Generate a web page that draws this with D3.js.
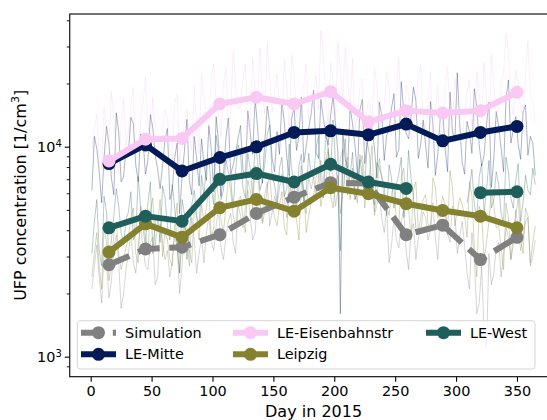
<!DOCTYPE html>
<html lang="en">
<head>
  <meta charset="UTF-8">
  <title>UFP concentration 2015</title>
  <script src="https://d3js.org/d3.v7.min.js"></script>
  <style>
    body { margin: 0; background: #fff; }
    text { font-family: "DejaVu Sans", sans-serif; fill: #000; }
  </style>
</head>
<body>
  <script>
    // monthly means (mid-month days)
    const monthDays = [15, 45, 75, 106, 136, 167, 197, 228, 259, 289, 320, 350];
    const simulation = [2740, 3260, 3320, 3810, 4810, 5750, 6740, 6670, 3810, 4230, 2900, 3700];
    const leMitte = [8310, 10200, 7660, 8880, 9980, 11690, 11900, 11390, 12810, 10660, 11690, 12490];
    const leEisenbahnstr = [8550, 10860, 10950, 15970, 17200, 15970, 18280, 13140, 14840, 14460, 14840, 18160];
    const leipzig = [3150, 4290, 3700, 5120, 5610, 4930, 6380, 5970, 5350, 4970, 4670, 4110];
    const leWest = [4110, 4670, 4420, 6990, 7450, 6790, 8250, 6790, 6330, null, 6040, 6100];

    // daily values, read every 2nd day:
    // "A" arrays are days 1, 5, 9, ... 365 and "B" arrays days 3, 7, 11, ... 363
    const daysA = d3.range(1, 366, 4);
    const daysB = d3.range(3, 364, 4);

    const simA = [2100, 3400, 1800, 2900, 2300, 3800, 1700, 2600,
      3900, 2500, 4100, 2700, 3500, 2200, 4300, 2900,
      2400, 3800, 2000, 4200, 2700, 3600, 3100,
      2800, 4600, 3200, 5100, 2900, 4400, 3500, 5300,
      4100, 6200, 3600, 5700, 4400, 6800, 4900,
      5200, 7400, 4600, 6900, 5500, 8100, 4800, 6300,
      5900, 8600, 6400, 7900, 5200, 8800, 6100, 7500,
      5600, 8400, 6800, 7300, 4700, 5900, 3900,
      2800, 4600, 3300, 5100, 2600, 4300, 3700, 4900,
      3600, 5400, 2900, 4700, 3900, 5200, 3100, 4400,
      2500, 3900, 1600, 2700, 1100, 2200, 3300,
      2400, 4100, 2900, 5000, 3200, 4400, 2700, 3600];
    const simB = [2700, 2400, 3100, 1900, 3300, 2800, 2000,
      3100, 2800, 3400, 3300, 2600, 3700, 2400, 3500,
      3200, 2900, 3300, 2700, 3800, 4600, 2500, 3700,
      3900, 3500, 4200, 3300, 3700, 4800, 3100,
      4700, 5100, 4600, 3900, 5300, 5900, 4200, 5800,
      6400, 5600, 5900, 4700, 6300, 5400, 7200,
      7100, 6900, 5800, 9400, 7300, 6200, 9700, 6800,
      7200, 6100, 9100, 5900, 6600, 5300, 4600, 5100,
      3400, 3600, 4400, 3200, 3900, 2900, 4000,
      4600, 4000, 3700, 4900, 5100, 3500, 4800, 3700,
      3400, 2100, 2900, 1800, 1300, 3100, 2500,
      3500, 3100, 3700, 3400, 4100, 3700, 4600, 3000];

    const mitteA = [6200, 9800, 5400, 12500, 7100, 14500, 6800, 9900,
      13800, 8200, 11500, 7400, 14200, 9100, 6300, 10800,
      5600, 8900, 4800, 9600, 6900, 11200, 6500,
      8300, 12600, 6100, 10400, 7300, 13700, 8200, 11000,
      7800, 14800, 9200, 12400, 6700, 15600, 8800,
      11800, 16500, 8900, 13600, 9600, 17200, 10100, 14300,
      9400, 16800, 11300, 14100, 12900, 1600, 8700, 15400,
      10200, 14900, 8300, 13700, 9800, 16300, 8600,
      12100, 17900, 9700, 14800, 10900, 19200, 8800, 13400,
      7900, 12800, 9200, 15100, 7600, 11900, 22500, 8400,
      13200, 9300, 15600, 8100, 12800, 6400, 14700,
      9800, 16900, 10400, 13900, 8700, 15800, 11200, 7300];
    const mitteB = [11200, 7600, 8900, 10300, 5900, 11800, 7200,
      9400, 12900, 6800, 10600, 8700, 12300, 7800, 8100,
      12200, 6300, 10400, 7200, 13500, 5900, 8800, 10900,
      6900, 9700, 13900, 5800, 10900, 7400, 9300,
      12600, 7100, 11600, 16900, 8300, 10700, 12900, 7600,
      9200, 13100, 7300, 15400, 11200, 8400, 12200,
      18600, 8800, 13700, 10200, 17400, 9300, 11600, 7900,
      12800, 7400, 16800, 10500, 12100, 7100, 14100, 11300,
      15200, 8900, 20400, 11600, 13900, 16600, 10300,
      10100, 16400, 7300, 13800, 9800, 18200, 10600, 12700,
      7400, 11800, 18900, 10200, 9100, 16300, 8800,
      12400, 7600, 20800, 12100, 10300, 14600, 9100, 10400];

    const eisenA = [9500, 14200, 7800, 11600, 18300, 8900, 12700, 10100,
      15800, 9200, 13400, 21500, 10300, 12100, 8600, 14900,
      9800, 16200, 8400, 13100, 11200, 19400, 9300,
      17600, 12400, 24800, 14100, 19900, 11800, 28500, 15200,
      20600, 13100, 26300, 15900, 18400, 31200, 14600,
      22100, 12900, 19800, 27400, 13800, 17500, 24600, 14200,
      21800, 35800, 16300, 25100, 13700, 22400, 29800, 15100,
      12100, 18900, 10400, 16200, 23700, 11600, 15800,
      19300, 12800, 26400, 14100, 17800, 11900, 21200, 13600,
      16400, 11200, 19700, 13300, 24100, 12600, 16900, 10800,
      18200, 12400, 22600, 13500, 16800, 27900, 14300,
      19800, 34600, 16100, 23500, 15400, 21700, 17600, 12900];
    const eisenB = [12300, 8600, 15400, 10200, 13800, 7400, 16900,
      11800, 19200, 8900, 16400, 12600, 17300, 10700, 11900,
      13600, 8700, 17900, 10300, 15200, 9600, 12800, 22300,
      13900, 20800, 16300, 11200, 23500, 14600, 19300,
      15400, 24900, 12100, 18700, 29600, 14300, 21200, 17900,
      16300, 25800, 11400, 21900, 15200, 19700, 13300,
      18600, 14900, 27400, 12800, 20300, 31600, 17300, 19900,
      26300, 14200, 21100, 15700, 12400, 19800, 14900, 22600,
      11300, 17100, 14400, 19600, 10800, 15900, 24700,
      12300, 22800, 15100, 10900, 18600, 14800, 21300, 13100,
      14600, 20900, 11100, 17700, 25300, 12200, 19600,
      15300, 22400, 28200, 14200, 19900, 13700, 31800, 16200];

    const leipzigA = [2400, 3900, 2100, 3500, 2800, 4400, 2600, 3300,
      4600, 3100, 5200, 3700, 4900, 3400, 5600, 3900,
      2900, 4300, 2500, 4700, 3200, 5100, 3600,
      4400, 6300, 4100, 5800, 3900, 7200, 4700, 5500,
      4600, 6900, 5100, 7600, 4300, 6500, 5300,
      4200, 6100, 3800, 5700, 4500, 6800, 3900, 5400,
      7100, 5200, 8600, 5900, 6700, 4800, 8100, 5600,
      6300, 9200, 5100, 7400, 4900, 8800, 5700,
      4700, 6600, 4200, 7900, 5100, 6200, 3900, 5600,
      4300, 7100, 4600, 5800, 3800, 6400, 4900, 5300,
      3700, 5900, 2400, 4800, 3500, 6200, 4100,
      3300, 5400, 2900, 4700, 3600, 5100, 2800, 4200];
    const leipzigB = [3100, 2700, 4200, 2300, 3800, 3100, 2900,
      3700, 5100, 2800, 4400, 3200, 5700, 4300, 3000,
      3600, 2700, 5400, 3500, 4100, 2800, 4600, 5300,
      5100, 3700, 6800, 4500, 5200, 6100, 4200,
      5800, 3900, 6200, 8100, 5500, 4900, 7200, 4600,
      5300, 4100, 7400, 5000, 3600, 6300, 4700,
      5800, 7700, 6200, 9800, 5100, 7300, 6000, 8900,
      7900, 5400, 8300, 6600, 10100, 5900, 7100, 5200,
      6000, 4400, 7100, 5700, 3600, 6800, 4600,
      5900, 4100, 6400, 4900, 5300, 7700, 4200, 5700,
      4700, 6800, 3300, 5200, 2900, 4400, 5300,
      4200, 2600, 4600, 3800, 5700, 3100, 4700, 3500];

    const westA = [3100, 5600, 2700, 4900, 3600, 6300, 3900, 4500,
      6100, 3800, 5200, 3300, 6800, 4400, 3500, 5700,
      3600, 5100, 2500, 4800, 3900, 6200, 4100,
      5900, 8800, 5300, 9400, 6200, 7600, 5100, 10200,
      6400, 9300, 5800, 8600, 6900, 11500, 7100,
      5400, 8900, 6300, 7800, 4900, 9200, 6100, 7400,
      9800, 6900, 12400, 7600, 8400, 3200, 10900, 7300,
      5600, 8700, 6200, 9100, 5300, 7900, 6500,
      8200, 5100, 7400, 4600, 9600, 5800, null, null,
      null, null, null, null, null, null, null, null,
      5400, 7800, 4600, 8300, 6200, 5100, 7600,
      4800, 8900, 5700, 6900, 4400, 7300, 5900, 6600];
    const westB = [4400, 3200, 5800, 2900, 4700, 5200, 3400,
      4900, 3600, 7200, 4100, 5400, 3100, 4600, 6500,
      4200, 6600, 3300, 5600, 2900, 5300, 4700, 7300,
      8100, 6400, 11300, 5600, 8700, 6900, 7800,
      9100, 5700, 7900, 10400, 6200, 8300, 12700, 6600,
      7900, 5800, 10300, 6700, 8100, 5500, 9300,
      7100, 11300, 5700, 9700, 13400, 6300, 8900, 5900,
      9400, 6100, 7300, 10600, 5900, 8400, 7200, 4700,
      7100, 6600, 8900, 5400, 7100, 4100, null,
      null, null, null, null, null, null, null, null,
      null, 6300, 5300, 7200, 4800, 8600, 5600,
      6600, 4300, 7600, 5100, 8300, 5400, 6200, 7900];

    const xTicks = [0, 50, 100, 150, 200, 250, 300, 350];

    const series = [
      { name: 'Simulation', color: '#808080', monthly: simulation, a: simA, b: simB, dashed: true },
      { name: 'LE-Mitte', color: '#021b58', monthly: leMitte, a: mitteA, b: mitteB },
      { name: 'LE-Eisenbahnstr', color: '#f9c8f3', monthly: leEisenbahnstr, a: eisenA, b: eisenB },
      { name: 'Leipzig', color: '#84822f', monthly: leipzig, a: leipzigA, b: leipzigB },
      { name: 'LE-West', color: '#1e5f5b', monthly: leWest, a: westA, b: westB }
    ];

    const width = 547;
    const height = 420;
    const pLeft = 69.75, pRight = 557.4, pTop = 14, pBottom = 376.7;

    const svg = d3.select('body').append('svg')
      .attr('width', width)
      .attr('height', height);

    const x = d3.scaleLinear().domain([-17.2, 383.2]).range([pLeft, pRight]);
    const y = d3.scaleLog().domain([803, 42840]).range([pBottom, pTop]);

    svg.append('clipPath').attr('id', 'plotclip')
      .append('rect')
      .attr('x', pLeft).attr('y', pTop)
      .attr('width', pRight - pLeft).attr('height', pBottom - pTop);

    const plot = svg.append('g').attr('clip-path', 'url(#plotclip)');

    const line = d3.line()
      .defined(d => d[1] != null)
      .x(d => x(d[0]))
      .y(d => y(d[1]));

    // faint daily lines
    series.forEach(s => {
      const pts = daysA.map((d, i) => [d, s.a[i]])
        .concat(daysB.map((d, i) => [d, s.b[i]]))
        .sort((p, q) => p[0] - q[0]);
      plot.append('path')
        .datum(pts)
        .attr('fill', 'none')
        .attr('stroke', s.color)
        .attr('stroke-opacity', 0.32)
        .attr('stroke-width', 1)
        .attr('d', line);
    });

    // monthly lines with markers
    series.forEach(s => {
      const pts = monthDays.map((d, i) => [d, s.monthly[i]]);
      plot.append('path')
        .datum(pts)
        .attr('fill', 'none')
        .attr('stroke', s.color)
        .attr('stroke-width', 6)
        .attr('stroke-linejoin', 'round')
        .attr('stroke-dasharray', s.dashed ? '22.2,9.6' : null)
        .attr('d', line);
      plot.append('g')
        .selectAll('circle')
        .data(pts.filter(p => p[1] != null))
        .enter().append('circle')
        .attr('cx', d => x(d[0]))
        .attr('cy', d => y(d[1]))
        .attr('r', 6.5)
        .attr('fill', s.color);
    });

    // axes
    const xAxis = svg.append('g')
      .attr('transform', `translate(0,${pBottom})`)
      .call(d3.axisBottom(x).tickValues(xTicks).tickSize(5).tickPadding(4).tickSizeOuter(0));
    xAxis.select('.domain').remove();
    xAxis.selectAll('text').attr('font-size', 14.4).attr('font-family', 'DejaVu Sans').attr('fill', '#000');
    xAxis.selectAll('line').attr('stroke', '#000').attr('stroke-width', 1.1);

    const minorTicks = [900, 2000, 3000, 4000, 5000, 6000, 7000, 8000, 9000, 20000, 30000, 40000];
    const yMinor = svg.append('g')
      .attr('transform', `translate(${pLeft},0)`)
      .call(d3.axisLeft(y).tickValues(minorTicks).tickSize(3).tickFormat(''));
    yMinor.select('.domain').remove();
    yMinor.selectAll('line').attr('stroke', '#000').attr('stroke-width', 0.9);

    const yMajor = svg.append('g')
      .attr('transform', `translate(${pLeft},0)`)
      .call(d3.axisLeft(y).tickValues([1000, 10000]).tickSize(5).tickFormat(''));
    yMajor.select('.domain').remove();
    yMajor.selectAll('line').attr('stroke', '#000').attr('stroke-width', 1.1);
    yMajor.selectAll('.tick').each(function(d) {
      const t = d3.select(this).append('text')
        .attr('x', -8)
        .attr('dy', '0.35em')
        .attr('text-anchor', 'end')
        .attr('font-size', 14.4);
      t.append('tspan').text('10');
      t.append('tspan').attr('font-size', 10).attr('dy', '-0.55em').text(Math.round(Math.log10(d)));
    });

    // frame
    svg.append('rect')
      .attr('x', pLeft).attr('y', pTop)
      .attr('width', pRight - pLeft).attr('height', pBottom - pTop)
      .attr('fill', 'none')
      .attr('stroke', '#000')
      .attr('stroke-width', 1.1);

    // axis labels
    svg.append('text')
      .attr('x', (pLeft + pRight) / 2)
      .attr('y', 416.5)
      .attr('text-anchor', 'middle')
      .attr('font-size', 16)
      .text('Day in 2015');

    const yl = svg.append('text')
      .attr('transform', `translate(26,${(pTop + pBottom) / 2}) rotate(-90)`)
      .attr('text-anchor', 'middle')
      .attr('font-size', 16);
    yl.append('tspan').text('UFP concentration [1/cm');
    yl.append('tspan').attr('font-size', 11).attr('dy', '-0.6em').text('3');
    yl.append('tspan').attr('dy', '0.4em').text(']');

    // legend
    const legend = svg.append('g');
    legend.append('rect')
      .attr('x', 77.3).attr('y', 320.7)
      .attr('width', 457.7).attr('height', 48.3)
      .attr('rx', 3)
      .attr('fill', '#fff').attr('fill-opacity', 0.8)
      .attr('stroke', '#d5d5d5').attr('stroke-width', 1);

    const colX = [81, 233, 426];
    const rowY = [332.7, 354.3];
    series.forEach((s, i) => {
      const cx = colX[Math.floor(i / 2)];
      const cy = rowY[i % 2];
      const g = legend.append('g');
      g.append('line')
        .attr('x1', cx).attr('x2', cx + 35)
        .attr('y1', cy).attr('y2', cy)
        .attr('stroke', s.color)
        .attr('stroke-width', 6)
        .attr('stroke-dasharray', s.dashed ? '22.2,9.6' : null);
      g.append('circle')
        .attr('cx', cx + 17.5).attr('cy', cy)
        .attr('r', 6.5)
        .attr('fill', s.color);
      g.append('text')
        .attr('x', cx + 44)
        .attr('y', cy)
        .attr('dy', '0.35em')
        .attr('font-size', 14.4)
        .text(s.name);
    });
  </script>
</body>
</html>
